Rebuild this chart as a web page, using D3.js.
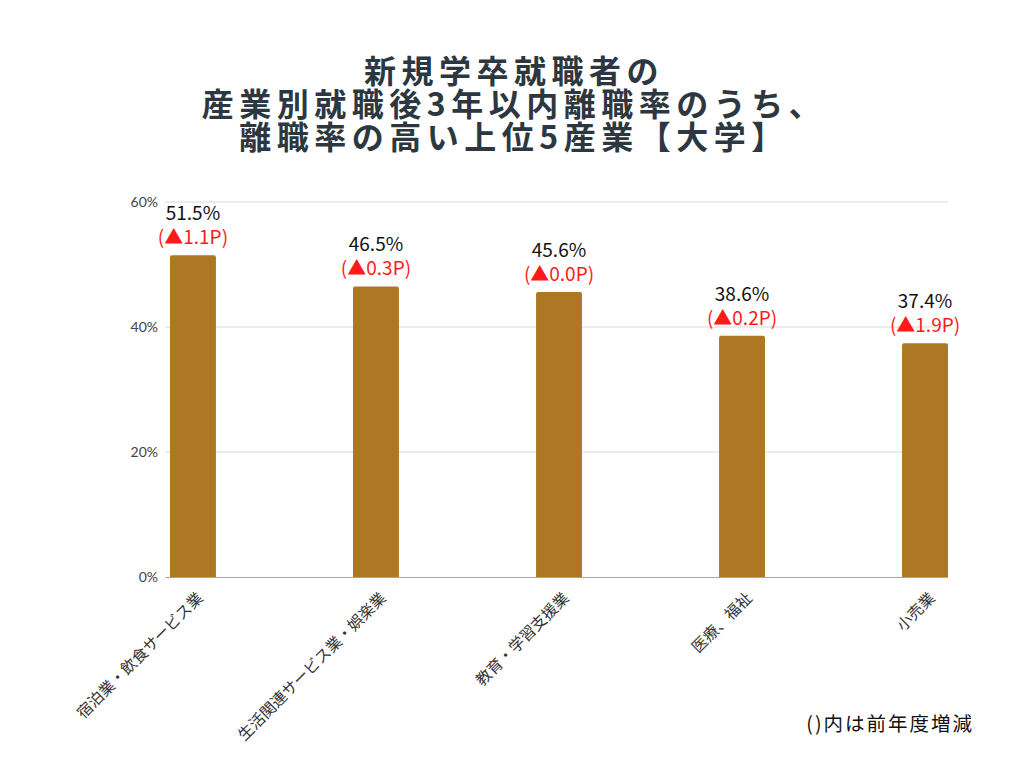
<!DOCTYPE html>
<html><head><meta charset="utf-8">
<script src="https://cdn.jsdelivr.net/npm/d3@7"></script>
<style>body{margin:0;background:#fff;}svg{display:block;}</style>
</head><body>
<script>
const titleLines = ["新規学卒就職者の", "産業別就職後3年以内離職率のうち、", "離職率の高い上位5産業【大学】"];
const categories = ["宿泊業・飲食サービス業", "生活関連サービス業・娯楽業", "教育・学習支援業", "医療、福祉", "小売業"];
const rates = [51.5, 46.5, 45.6, 38.6, 37.4];
const changes = ["(▲1.1P)", "(▲0.3P)", "(▲0.0P)", "(▲0.2P)", "(▲1.9P)"];
const yTicks = [0, 20, 40, 60];
const footnote = "()内は前年度増減";

const W = 1024, H = 768;
const svg = d3.select("body").append("svg").attr("width", W).attr("height", H);
svg.append("rect").attr("width", W).attr("height", H).attr("fill", "#fff");

const x = d3.scaleBand().domain(categories).range([170, 948]).paddingInner(0.749).paddingOuter(0);
const y = d3.scaleLinear().domain([0, 60]).range([577, 202]);

// title
const title = svg.append("g")
  .attr("font-family", "'Noto Sans CJK JP', sans-serif").attr("font-weight", "bold")
  .attr("font-size", 32).attr("fill", "#2d3740").attr("letter-spacing", 5.5);
titleLines.forEach((t, i) => title.append("text").attr("text-anchor", "middle")
  .attr("x", 514).attr("y", 83 + i * 33).text(t));

// grid
svg.append("g").selectAll("line").data(yTicks.filter(d => d > 0)).join("line")
  .attr("x1", 165).attr("x2", 948).attr("y1", d => y(d)).attr("y2", d => y(d))
  .attr("stroke", "#d9d9d9").attr("stroke-width", 1);

// y axis
const yAxis = svg.append("g").attr("transform", "translate(158,0)")
  .call(d3.axisLeft(y).tickValues(yTicks).tickFormat(d => d + "%").tickSize(0).tickPadding(0));
yAxis.select(".domain").remove();
yAxis.selectAll("text").attr("font-family", "Lato, sans-serif").attr("font-size", 14).attr("fill", "#444");

// bars
svg.append("g").selectAll("path").data(rates).join("path")
  .attr("fill", "#ad7724")
  .attr("d", (d, i) => {
    const x0 = x(categories[i]), w = x.bandwidth(), y0 = y(d), y1 = y(0), r = 2;
    return `M${x0},${y1}V${y0 + r}Q${x0},${y0} ${x0 + r},${y0}H${x0 + w - r}Q${x0 + w},${y0} ${x0 + w},${y0 + r}V${y1}Z`;
  });

// baseline
svg.append("line").attr("x1", 165).attr("x2", 948).attr("y1", y(0) + 0.5).attr("y2", y(0) + 0.5)
  .attr("stroke", "#a6a6a6").attr("stroke-width", 1);

// x axis labels
const xAxis = svg.append("g").attr("transform", `translate(0,${y(0)})`)
  .call(d3.axisBottom(x).tickSize(0).tickPadding(0));
xAxis.select(".domain").remove();
xAxis.selectAll("text")
  .attr("font-family", "'Noto Sans CJK JP', sans-serif").attr("font-size", 15.5).attr("fill", "#333")
  .attr("text-anchor", "end").attr("dy", null)
  .attr("transform", "translate(11,22) rotate(-45)");

// value labels
const lbl = svg.append("g").attr("font-family", "'Noto Sans CJK JP', sans-serif").attr("font-size", 19).attr("text-anchor", "middle");
lbl.selectAll("text.v").data(rates).join("text").attr("class", "v")
  .attr("x", (d, i) => x(categories[i]) + x.bandwidth() / 2)
  .attr("y", d => y(d) - 35).attr("fill", "#111").text(d => d.toFixed(1) + "%");
lbl.selectAll("text.c").data(changes).join("text").attr("class", "c")
  .attr("x", (d, i) => x(categories[i]) + x.bandwidth() / 2)
  .attr("y", (d, i) => y(rates[i]) - 11).attr("fill", "#ff1a1a").text(d => d);

// footnote
svg.append("text").attr("x", 974).attr("y", 731).attr("text-anchor", "end")
  .attr("font-family", "'Noto Sans CJK JP', sans-serif").attr("font-size", 19.5).attr("letter-spacing", 2)
  .attr("fill", "#111").text(footnote);
</script>
</body></html>
